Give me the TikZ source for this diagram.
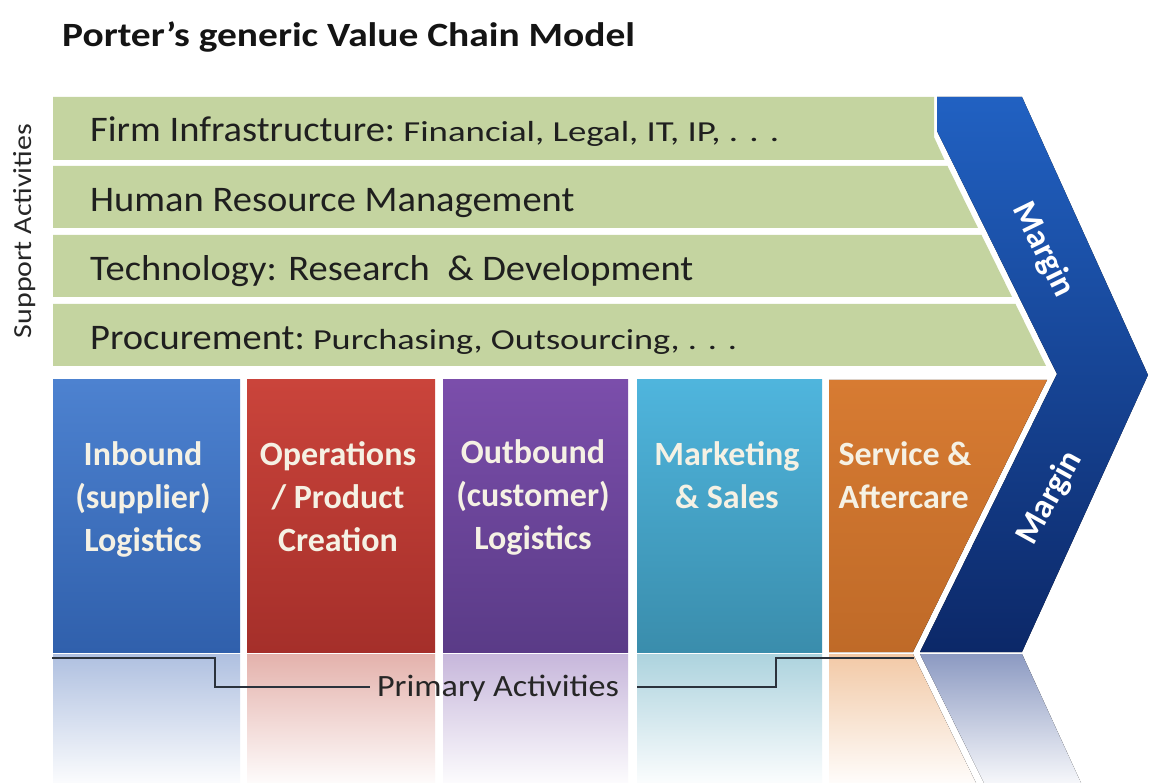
\documentclass[tikz,border=0pt]{standalone}
\usepackage{fontspec}
\setmainfont{Carlito}
\usepackage{graphicx}
\definecolor{bandg}{HTML}{C4D4A0}
\definecolor{chevT}{HTML}{2161C2}
\definecolor{chevB}{HTML}{0C2868}
\definecolor{inbT}{HTML}{4D82D0}
\definecolor{inbB}{HTML}{3060AC}
\definecolor{opT}{HTML}{CA443B}
\definecolor{opB}{HTML}{A52F2A}
\definecolor{outT}{HTML}{7B4EAB}
\definecolor{outB}{HTML}{5A3B87}
\definecolor{mktT}{HTML}{4FB5DD}
\definecolor{mktB}{HTML}{3A8DAC}
\definecolor{svcT}{HTML}{D77B32}
\definecolor{svcB}{HTML}{BF6A28}
\definecolor{inbR}{HTML}{AFC0E0}
\definecolor{opR}{HTML}{E4B2AC}
\definecolor{outR}{HTML}{C7B7DB}
\definecolor{mktR}{HTML}{ADD3DE}
\definecolor{svcR}{HTML}{F2C9A6}
\definecolor{chevR}{HTML}{8C9AC2}
\definecolor{coltxt}{HTML}{F5F1E4}
\definecolor{brkc}{HTML}{2B323C}
\begin{document}
\begin{tikzpicture}[x=1pt,y=-1pt,
  band/.style={fill=bandg},
  bandtxt/.style={anchor=base west,inner sep=0pt,text=black!88,font=\fontsize{36}{42}\selectfont},
  coltext/.style={anchor=north,inner sep=0pt,align=center,text=coltxt,font=\bfseries\fontsize{34}{43}\selectfont},
  margintxt/.style={inner sep=0pt,text=white,font=\bfseries\fontsize{34}{40}\selectfont},
  brk/.style={draw=brkc,line width=2.5pt}
]
\useasboundingbox (0,0) rectangle (1149,783);
\fill[white] (0,0) rectangle (1149,783);

% title
\node[anchor=base west,inner sep=0pt,font=\bfseries\fontsize{34}{40}\selectfont,text=black!92] (title) at (62,47) {\scalebox{1.16}[1]{Porter’s generic Value Chain Model}};

% support bands
\fill[band] (53,97) -- (934,97) -- (934,137) -- (944.5,160) -- (53,160) -- cycle;
\fill[band] (53,166) -- (947.5,166) -- (978,228) -- (53,228) -- cycle;
\fill[band] (53,235) -- (981.5,235) -- (1012,297) -- (53,297) -- cycle;
\fill[band] (53,304) -- (1015.5,304) -- (1046,366) -- (53,366) -- cycle;

\node[bandtxt] (fi) at (90,142) {\scalebox{1.07}[1]{Firm Infrastructure:} {\fontsize{29}{33}\selectfont\scalebox{1.27}[1]{Financial, Legal, IT, IP, . . .}}};
\node[bandtxt] (hr) at (90,212) {\scalebox{1.07}[1]{Human Resource Management}};
\node[bandtxt] (te) at (90,281) {\scalebox{1.07}[1]{Technology: Research \ \& Development}};
\node[bandtxt] (pr) at (90,350) {\scalebox{1.07}[1]{Procurement:} {\fontsize{29}{33}\selectfont\scalebox{1.25}[1]{Purchasing, Outsourcing, . . .}}};

\node[rotate=90,inner sep=0pt,text=black!85,font=\fontsize{26}{30}\selectfont] (sa) at (25,231) {\scalebox{1.15}[1]{Support Activities}};

% chevron
\fill[top color=chevT,bottom color=chevB] (937,97) -- (1022,97) -- (1148,375) -- (1022,652) -- (920,652) -- (1057,374) -- (937,131) -- cycle;

% primary columns
\fill[top color=inbT,bottom color=inbB] (53,380) rectangle (240,652);
\fill[top color=opT,bottom color=opB] (247,380) rectangle (435,652);
\fill[top color=outT,bottom color=outB] (443,380) rectangle (628,652);
\fill[top color=mktT,bottom color=mktB] (637,380) rectangle (822,652);
\fill[top color=svcT,bottom color=svcB] (829,380) -- (1047,380) -- (913,652) -- (829,652) -- cycle;

% reflections
\fill[top color=inbR,bottom color=inbR!5!white] (53,654) rectangle (240,783);
\fill[top color=opR,bottom color=opR!5!white] (247,654) rectangle (435,783);
\fill[top color=outR,bottom color=outR!5!white] (443,654) rectangle (628,783);
\fill[top color=mktR,bottom color=mktR!5!white] (637,654) rectangle (822,783);
\fill[top color=svcR,bottom color=svcR!5!white] (829,654) -- (913,654) -- (976,783) -- (829,783) -- cycle;
\fill[top color=chevR,bottom color=chevR!8!white] (920,654) -- (1022,654) -- (1081,783) -- (984,783) -- cycle;

% column texts
\node[coltext] (c1) at (143,438) {\rule{0pt}{27pt}Inbound\\(supplier)\\Logistics};
\node[coltext] (c2) at (338,438) {\rule{0pt}{27pt}Operations\\/ Product\\Creation};
\node[coltext] (c3) at (533,436) {\rule{0pt}{27pt}Outbound\\(customer)\\Logistics};
\node[coltext] (c4) at (727,438) {\rule{0pt}{27pt}Marketing\\\& Sales};
\node[coltext,align=left] (c5) at (905,438) {\rule{0pt}{27pt}Service \&\\Aftercare};

% margin labels
\node[margintxt,rotate=-64] (m1) at (1043,250) {Margin};
\node[margintxt,rotate=61] (m2) at (1050,498) {Margin};

% primary activities bracket
\node[anchor=base,inner sep=0pt,text=black!85,font=\fontsize{31}{36}\selectfont] (pa) at (498,696) {\scalebox{1.1}[1]{Primary Activities}};
\coordinate (bl) at (52,658);
\coordinate (l1) at (370,687);
\coordinate (r1) at (637,687);
\coordinate (br) at (914,658);
\draw[brk] (bl) -| (215,687) -- (l1);
\draw[brk] (r1) -- (776,687) |- (br);
\end{tikzpicture}
\end{document}
